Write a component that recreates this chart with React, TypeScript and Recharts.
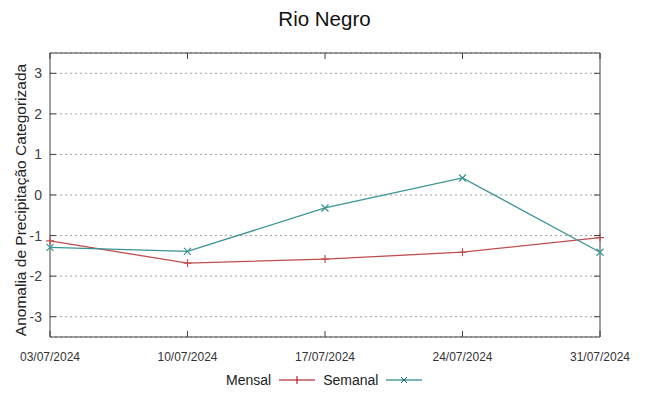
import { LineChart, Line, XAxis, YAxis, CartesianGrid, ReferenceArea } from 'recharts';

const datas = ['03/07/2024', '10/07/2024', '17/07/2024', '24/07/2024', '31/07/2024'];
const mensal = [-1.13, -1.68, -1.58, -1.41, -1.05];
const semanal = [-1.29, -1.39, -0.32, 0.42, -1.41];
const yTicks = [-3, -2, -1, 0, 1, 2, 3];

const dados = datas.map((d, i) => ({ data: d, mensal: mensal[i], semanal: semanal[i] }));

const FONTE = '"Liberation Sans", Arial, sans-serif';
const COR_MENSAL = '#c04e4e';
const COR_SEMANAL = '#3a9494';
const PLOT = { left: 50, right: 600, top: 53, bottom: 337 };

function Cruz({ cx, cy, cor }: any) {
  if (cx == null || cy == null) return null;
  return (
    <g stroke={cor} strokeWidth={1.2}>
      <line x1={cx} y1={cy - 4} x2={cx} y2={cy + 4} />
      <line x1={cx - 4} y1={cy} x2={cx + 4} y2={cy} />
    </g>
  );
}

function Xis({ cx, cy, cor }: any) {
  if (cx == null || cy == null) return null;
  return (
    <g stroke={cor} strokeWidth={1.2}>
      <line x1={cx - 3.5} y1={cy - 3.5} x2={cx + 3.5} y2={cy + 3.5} />
      <line x1={cx - 3.5} y1={cy + 3.5} x2={cx + 3.5} y2={cy - 3.5} />
    </g>
  );
}

function TickX({ payload }: any) {
  const x = payload.coordinate;
  return (
    <g>
      <line x1={x} y1={PLOT.bottom} x2={x} y2={PLOT.bottom - 6} stroke="#404040" />
      <line x1={x} y1={PLOT.top} x2={x} y2={PLOT.top + 6} stroke="#404040" />
      <text x={x} y={PLOT.bottom + 24} textAnchor="middle" fontSize={12} fontFamily={FONTE} fill="#333">
        {payload.value}
      </text>
    </g>
  );
}

function TickY({ payload }: any) {
  const y = payload.coordinate;
  return (
    <g>
      <line x1={PLOT.left} y1={y} x2={PLOT.left + 6} y2={y} stroke="#404040" />
      <line x1={PLOT.right} y1={y} x2={PLOT.right - 6} y2={y} stroke="#404040" />
      <text x={PLOT.left - 8} y={y + 5} textAnchor="end" fontSize={14} fontFamily={FONTE} fill="#404040">
        {payload.value}
      </text>
    </g>
  );
}

function RotuloY() {
  return (
    <text
      x={26}
      y={200}
      transform="rotate(-90, 26, 200)"
      textAnchor="middle"
      fontSize={15.5}
      fontFamily={FONTE}
      fill="#222"
    >
      Anomalia de Precipitação Categorizada
    </text>
  );
}

export default function App() {
  return (
    <div style={{ position: 'relative', width: 649, height: 396, margin: -8, background: '#fff', fontFamily: FONTE }}>
      <div style={{ position: 'absolute', top: 7, left: 0, width: 649, textAlign: 'center', fontSize: 20.5, color: '#111' }}>
        Rio Negro
      </div>
      <LineChart width={649} height={396} data={dados} margin={{ top: PLOT.top, right: 649 - PLOT.right, bottom: 29, left: 0 }}>
        <CartesianGrid vertical={false} stroke="#a0a0a0" strokeDasharray="2 3" />
        <XAxis dataKey="data" height={30} axisLine={false} tickLine={false} tick={<TickX />} interval={0} />
        <YAxis
          width={PLOT.left}
          domain={[-3.5, 3.5]}
          ticks={yTicks}
          axisLine={false}
          tickLine={false}
          tick={<TickY />}
          label={{ content: <RotuloY /> }}
        />
        <ReferenceArea x1={datas[0]} x2={datas[datas.length - 1]} y1={-3.5} y2={3.5} fill="none" stroke="#404040" strokeWidth={1} />
        <Line dataKey="mensal" stroke={COR_MENSAL} strokeWidth={1.3} isAnimationActive={false} dot={(p: any) => <Cruz key={p.index} cx={p.cx} cy={p.cy} cor={COR_MENSAL} />} />
        <Line dataKey="semanal" stroke={COR_SEMANAL} strokeWidth={1.3} isAnimationActive={false} dot={(p: any) => <Xis key={p.index} cx={p.cx} cy={p.cy} cor={COR_SEMANAL} />} />
      </LineChart>
      <div style={{ position: 'absolute', top: 372, left: 226, display: 'flex', alignItems: 'center', fontSize: 14, color: '#222' }}>
        <span>Mensal</span>
        <svg width={48} height={12} style={{ marginLeft: 2 }}>
          <line x1={6} y1={6} x2={42} y2={6} stroke="#a00000" />
          <line x1={24} y1={2} x2={24} y2={10} stroke="#a00000" />
        </svg>
        <span style={{ marginLeft: 2 }}>Semanal</span>
        <svg width={48} height={12} style={{ marginLeft: 2 }}>
          <line x1={6} y1={6} x2={42} y2={6} stroke="#006666" />
          <line x1={21} y1={3} x2={27} y2={9} stroke="#006666" />
          <line x1={21} y1={9} x2={27} y2={3} stroke="#006666" />
        </svg>
      </div>
    </div>
  );
}
